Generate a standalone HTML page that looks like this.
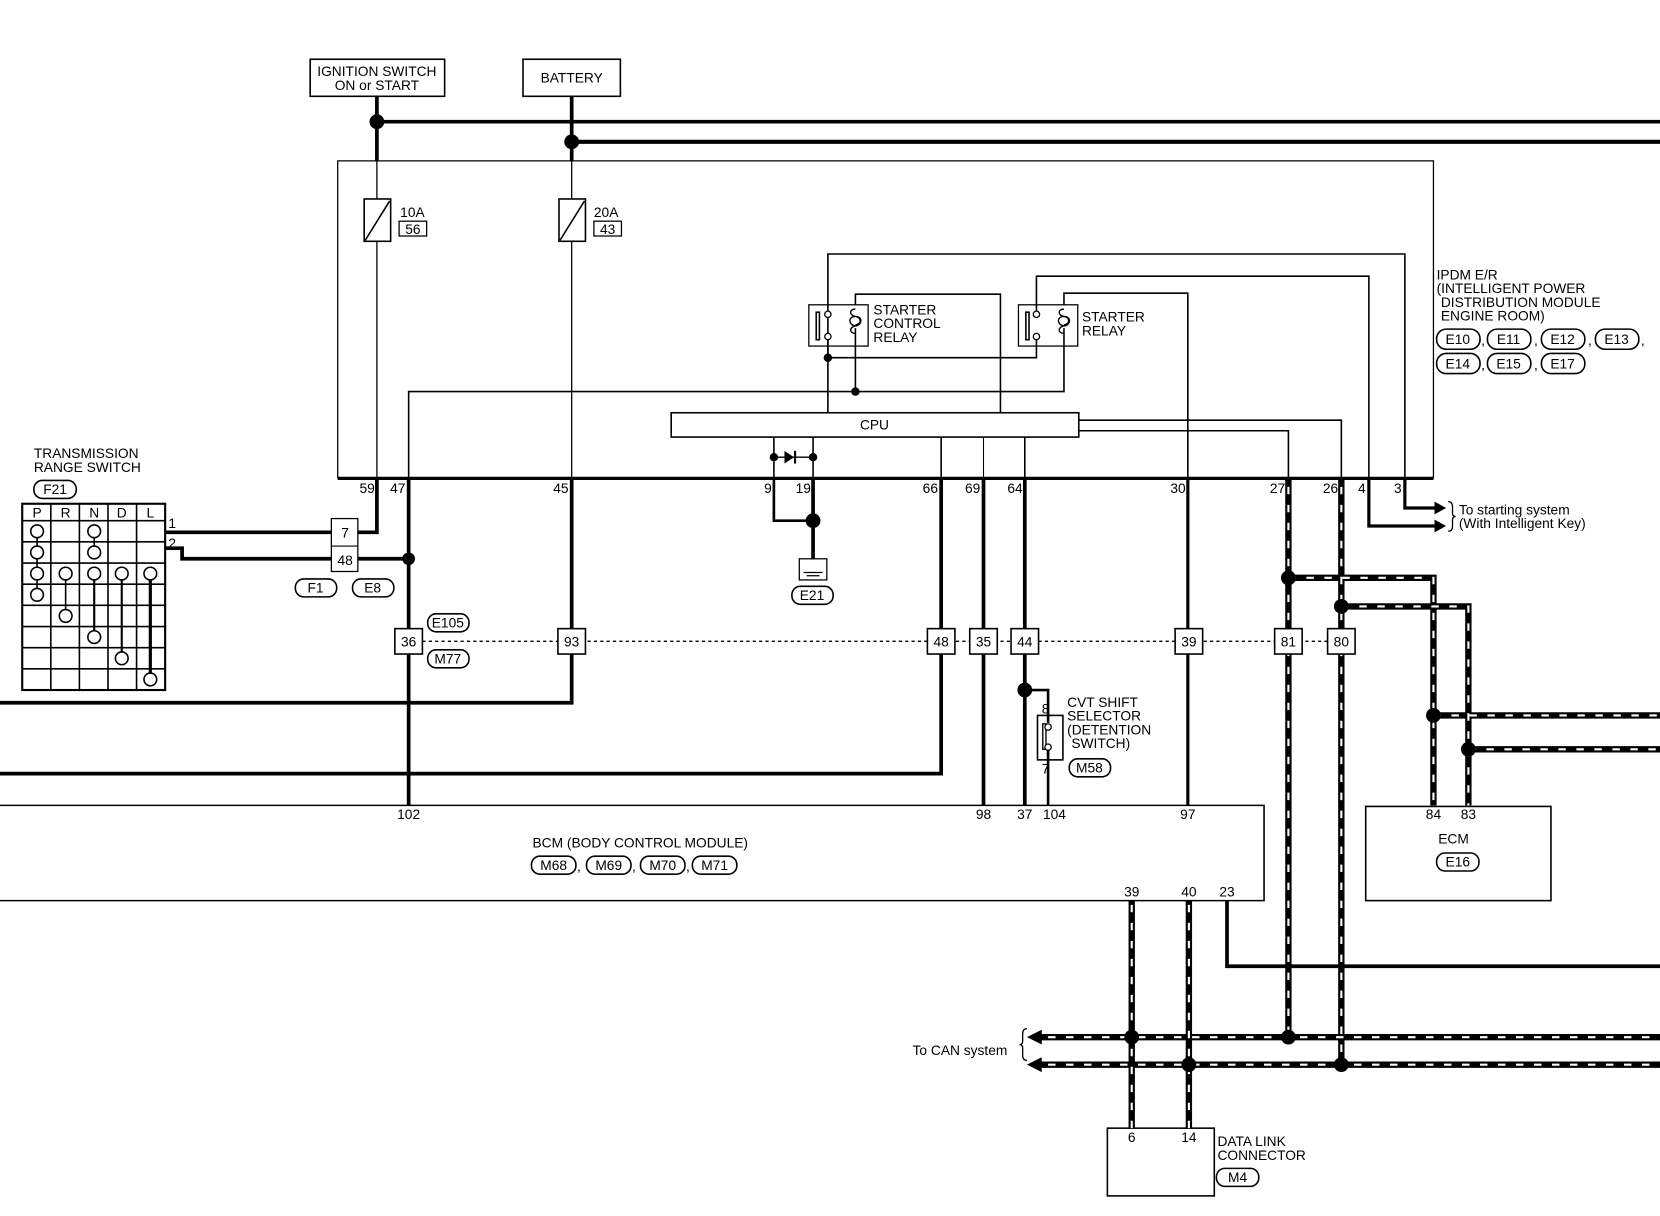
<!DOCTYPE html>
<html><head><meta charset="utf-8">
<style>
html,body{margin:0;padding:0;background:#fff;}
svg{display:block;}
text{font-family:"Liberation Sans",sans-serif;font-size:13px;fill:#000;}
</style></head>
<body>
<svg width="1660" height="1216" viewBox="0 0 1568 1149" preserveAspectRatio="none" xmlns="http://www.w3.org/2000/svg">
<g fill="none" stroke="#000">
<rect x="293" y="56" width="127" height="35" stroke-width="1.5"/>
<rect x="494" y="56" width="92" height="35" stroke-width="1.5"/>
<line x1="356" y1="91" x2="356" y2="152" stroke-width="3.5"/>
<line x1="540" y1="91" x2="540" y2="152" stroke-width="3.5"/>
<line x1="356" y1="115" x2="1568" y2="115" stroke-width="3.5"/>
<line x1="540" y1="134" x2="1568" y2="134" stroke-width="4"/>
<polyline points="319,452 319,152 1354,152 1354,452" stroke-width="1.2"/>
<line x1="319" y1="452" x2="1354" y2="452" stroke-width="3"/>
<line x1="356" y1="152" x2="356" y2="452" stroke-width="1.2"/>
<line x1="540" y1="152" x2="540" y2="452" stroke-width="1.2"/>
<rect x="344" y="188" width="25" height="40" fill="#fff" stroke-width="1.5"/>
<line x1="345" y1="227" x2="368" y2="190" stroke-width="1.5"/>
<rect x="528" y="188" width="25" height="40" fill="#fff" stroke-width="1.5"/>
<line x1="529" y1="227" x2="552" y2="190" stroke-width="1.5"/>
<rect x="377" y="209" width="26" height="14" stroke-width="1.2"/>
<rect x="561" y="209" width="26" height="14" stroke-width="1.2"/>
<polyline points="782,390 782,240 1327,240 1327,452" stroke-width="1.5"/>
<polyline points="979,297 979,261 1293,261 1293,452" stroke-width="1.5"/>
<polyline points="808,288 808,278 945,278 945,390" stroke-width="1.5"/>
<polyline points="1005,288 1005,277 1122,277 1122,452" stroke-width="1.5"/>
<rect x="764" y="288" width="56" height="39" stroke-width="1.2"/>
<rect x="962" y="288" width="56" height="39" stroke-width="1.2"/>
<line x1="782" y1="318" x2="782" y2="338" stroke-width="1.5"/>
<polyline points="782,338 979,338 979,318" stroke-width="1.5"/>
<line x1="808" y1="310" x2="808" y2="370" stroke-width="1.5"/>
<polyline points="386,452 386,370 1005,370 1005,310" stroke-width="1.5"/>
<rect x="771" y="295" width="3" height="26" stroke-width="1.5"/>
<rect x="969" y="295" width="3" height="26" stroke-width="1.5"/>
<circle cx="782" cy="297" r="3" fill="#fff" stroke-width="1.2"/>
<circle cx="782" cy="318" r="3" fill="#fff" stroke-width="1.2"/>
<circle cx="979" cy="297" r="3" fill="#fff" stroke-width="1.2"/>
<circle cx="979" cy="318" r="3" fill="#fff" stroke-width="1.2"/>
<path d="M808,292 c-6,0 -6,6 0,7 c6,1 6,7 0,8 M808,299 c-7,0 -7,8 0,9 c6,0 6,-9 0,-9 M808,308 c-6,1 -6,7 0,7 M808,299 c7,0 7,8 0,9" stroke-width="1.3"/>
<path d="M1005,292 c-6,0 -6,6 0,7 c6,1 6,7 0,8 M1005,299 c-7,0 -7,8 0,9 c6,0 6,-9 0,-9 M1005,308 c-6,1 -6,7 0,7 M1005,299 c7,0 7,8 0,9" stroke-width="1.3"/>
<rect x="634" y="390" width="385" height="23" fill="#fff" stroke-width="1.5"/>
<polyline points="1019,397 1267,397 1267,452" stroke-width="1.5"/>
<polyline points="1019,407 1217,407 1217,452" stroke-width="1.5"/>
<line x1="731" y1="413" x2="731" y2="452" stroke-width="1.5"/>
<line x1="768" y1="413" x2="768" y2="452" stroke-width="1.5"/>
<line x1="731" y1="432" x2="768" y2="432" stroke-width="1.2"/>
<line x1="889" y1="413" x2="889" y2="452" stroke-width="1.5"/>
<line x1="929" y1="413" x2="929" y2="452" stroke-width="1"/>
<line x1="968" y1="413" x2="968" y2="452" stroke-width="1.5"/>
<polyline points="356,452 356,503 338,503" stroke-width="3.5"/>
<line x1="386" y1="452" x2="386" y2="761" stroke-width="3.5"/>
<polyline points="540,452 540,664 0,664" stroke-width="3.5"/>
<polyline points="731,452 731,492 768,492" stroke-width="2.5"/>
<line x1="768" y1="452" x2="768" y2="528" stroke-width="3.5"/>
<polyline points="889,452 889,731 0,731" stroke-width="3.5"/>
<line x1="929" y1="452" x2="929" y2="761" stroke-width="3.5"/>
<line x1="968" y1="452" x2="968" y2="761" stroke-width="3.5"/>
<polyline points="968,652 990,652 990,683" stroke-width="2.5"/>
<line x1="990" y1="709" x2="990" y2="761" stroke-width="2.5"/>
<line x1="1122" y1="452" x2="1122" y2="761" stroke-width="3"/>
<polyline points="1293,452 1293,497 1355,497" stroke-width="3"/>
<polyline points="1327,452 1327,480 1355,480" stroke-width="3"/>
<line x1="156" y1="503" x2="313" y2="503" stroke-width="3.5"/>
<polyline points="156,518 172,518 172,528 313,528" stroke-width="3.5"/>
<line x1="338" y1="528" x2="386" y2="528" stroke-width="3.5"/>
<rect x="313" y="490" width="25" height="50" fill="#fff" stroke-width="1.2"/>
<line x1="313" y1="516" x2="338" y2="516" stroke-width="1"/>
<rect x="21" y="476" width="135" height="176" stroke-width="2"/>
<g stroke-width="1.5">
<line x1="48" y1="476" x2="48" y2="652"/><line x1="75" y1="476" x2="75" y2="652"/>
<line x1="102" y1="476" x2="102" y2="652"/><line x1="129" y1="476" x2="129" y2="652"/>
<line x1="21" y1="492" x2="156" y2="492"/><line x1="21" y1="512" x2="156" y2="512"/>
<line x1="21" y1="532" x2="156" y2="532"/><line x1="21" y1="552" x2="156" y2="552"/>
<line x1="21" y1="572" x2="156" y2="572"/><line x1="21" y1="592" x2="156" y2="592"/>
<line x1="21" y1="612" x2="156" y2="612"/><line x1="21" y1="632" x2="156" y2="632"/>
<line x1="35" y1="502" x2="35" y2="562"/>
<line x1="89" y1="502" x2="89" y2="522"/>
<line x1="62" y1="542" x2="62" y2="582"/>
<line x1="89" y1="542" x2="89" y2="602" stroke-width="2"/>
<line x1="115" y1="542" x2="115" y2="622" stroke-width="2"/>
<line x1="142" y1="542" x2="142" y2="642" stroke-width="3"/>
</g>
<g fill="#fff" stroke-width="1.5">
<circle cx="35" cy="502" r="6"/><circle cx="35" cy="522" r="6"/><circle cx="35" cy="542" r="6"/><circle cx="35" cy="562" r="6"/>
<circle cx="89" cy="502" r="6"/><circle cx="89" cy="522" r="6"/><circle cx="89" cy="542" r="6"/><circle cx="89" cy="602" r="6"/>
<circle cx="62" cy="542" r="6"/><circle cx="62" cy="582" r="6"/>
<circle cx="115" cy="542" r="6"/><circle cx="115" cy="622" r="6"/>
<circle cx="142" cy="542" r="6"/><circle cx="142" cy="642" r="6"/>
</g>
<line x1="399" y1="606" x2="1254" y2="606" stroke-width="1.3" stroke-dasharray="3,3"/>
<g fill="#fff" stroke-width="1.5">
<rect x="373" y="594" width="26" height="24"/><rect x="527" y="594" width="26" height="24"/>
<rect x="876" y="594" width="26" height="24"/><rect x="916" y="594" width="26" height="24"/>
<rect x="955" y="594" width="26" height="24"/><rect x="1110" y="594" width="26" height="24"/>
</g>
<rect x="980" y="676" width="24" height="42" stroke-width="1.5"/>
<rect x="985" y="684" width="3" height="24" stroke-width="1.3"/>
<circle cx="990" cy="687" r="3" fill="#fff" stroke-width="1.2"/>
<circle cx="990" cy="706" r="3" fill="#fff" stroke-width="1.2"/>
<rect x="755" y="528" width="26" height="20" stroke-width="1.2"/>
<line x1="759" y1="541" x2="777" y2="541" stroke-width="1.2"/>
<line x1="762" y1="544" x2="774" y2="544" stroke-width="1.2"/>
<polyline points="0,761 1194,761 1194,851 0,851" stroke-width="1.5"/>
<rect x="1290" y="762" width="175" height="89" stroke-width="1.5"/>
<polyline points="1159,851 1159,913 1568,913" stroke-width="3.5"/>
<rect x="1046" y="1066" width="101" height="64" stroke-width="1.5"/>
<g stroke-width="6">
<polyline points="1217,452 1217,980"/>
<polyline points="1267,452 1267,1006"/>
<polyline points="1217,546 1354,546 1354,761"/>
<polyline points="1267,573 1387,573 1387,761"/>
<line x1="1354" y1="676" x2="1568" y2="676"/>
<line x1="1387" y1="708" x2="1568" y2="708"/>
<line x1="1069" y1="851" x2="1069" y2="1066"/>
<line x1="1123" y1="851" x2="1123" y2="1066"/>
<line x1="980" y1="980" x2="1568" y2="980"/>
<line x1="980" y1="1006" x2="1568" y2="1006"/>
</g>
<g stroke="#fff" stroke-width="2" stroke-dasharray="7,10">
<polyline points="1217,460 1217,980"/>
<polyline points="1267,460 1267,1006"/>
<polyline points="1217,546 1354,546 1354,761"/>
<polyline points="1267,573 1387,573 1387,761"/>
<line x1="1354" y1="676" x2="1568" y2="676"/>
<line x1="1387" y1="708" x2="1568" y2="708"/>
<line x1="1069" y1="855" x2="1069" y2="1066"/>
<line x1="1123" y1="855" x2="1123" y2="1066"/>
<line x1="990" y1="980" x2="1568" y2="980"/>
<line x1="990" y1="1006" x2="1568" y2="1006"/>
</g>
<g fill="#fff" stroke-width="1.5">
<rect x="1204" y="594" width="26" height="24"/><rect x="1254" y="594" width="26" height="24"/>
</g>
<path d="M1368,474 q4,0 4,5 v6 q0,3 3,3 q-3,0 -3,3 v6 q0,5 -4,5" stroke-width="1.2"/>
<path d="M970,972 q-4,0 -4,5 v7 q0,3 -3,3 q3,0 3,3 v7 q0,5 4,5" stroke-width="1.2"/>
</g>
<g fill="#000">
<polygon points="1355,474 1366,480 1355,486"/>
<polygon points="1355,491 1366,497 1355,503"/>
<polygon points="970,980 984,973 984,987"/>
<polygon points="970,1006 984,999 984,1013"/>
<polygon points="741,426 741,438 750,432"/>
<rect x="750" y="426" width="2" height="12"/>
<circle cx="356" cy="115" r="7"/><circle cx="540" cy="134" r="7"/>
<circle cx="782" cy="338" r="4"/><circle cx="808" cy="370" r="4"/>
<circle cx="731" cy="432" r="4"/><circle cx="768" cy="432" r="4"/>
<circle cx="768" cy="492" r="7"/><circle cx="386" cy="528" r="6"/>
<circle cx="968" cy="652" r="7"/>
<circle cx="1217" cy="546" r="7"/><circle cx="1267" cy="573" r="7"/>
<circle cx="1354" cy="676" r="7"/><circle cx="1387" cy="708" r="7"/>
<circle cx="1069" cy="980" r="7"/><circle cx="1217" cy="980" r="7"/>
<circle cx="1123" cy="1006" r="7"/><circle cx="1267" cy="1006" r="7"/>
</g>
<g fill="none" stroke="#000" stroke-width="1.5">
<rect x="32" y="454" width="40" height="17" rx="8"/>
<rect x="279" y="547" width="39" height="17" rx="8"/>
<rect x="333" y="547" width="39" height="17" rx="8"/>
<rect x="404" y="580" width="39" height="17" rx="8"/>
<rect x="404" y="614" width="39" height="17" rx="8"/>
<rect x="748" y="554" width="39" height="17" rx="8"/>
<rect x="1010" y="717" width="39" height="17" rx="8"/>
<rect x="502" y="809" width="42" height="17" rx="8"/>
<rect x="554" y="809" width="42" height="17" rx="8"/>
<rect x="605" y="809" width="42" height="17" rx="8"/>
<rect x="654" y="809" width="42" height="17" rx="8"/>
<rect x="1357" y="806" width="40" height="17" rx="8"/>
<rect x="1149" y="1104" width="40" height="17" rx="8"/>
<rect x="1357" y="311" width="41" height="19" rx="9"/>
<rect x="1405" y="311" width="41" height="19" rx="9"/>
<rect x="1456" y="311" width="41" height="19" rx="9"/>
<rect x="1507" y="311" width="41" height="19" rx="9"/>
<rect x="1357" y="334" width="41" height="19" rx="9"/>
<rect x="1405" y="334" width="41" height="19" rx="9"/>
<rect x="1456" y="334" width="41" height="19" rx="9"/>
</g>
<text x="356" y="72" text-anchor="middle">IGNITION SWITCH</text>
<text x="356" y="85" text-anchor="middle">ON or START</text>
<text x="540" y="78" text-anchor="middle">BATTERY</text>
<text x="378" y="205">10A</text><text x="390" y="221" text-anchor="middle">56</text>
<text x="561" y="205">20A</text><text x="574" y="221" text-anchor="middle">43</text>
<text x="825" y="297">STARTER</text><text x="825" y="310">CONTROL</text><text x="825" y="323">RELAY</text>
<text x="1022" y="304">STARTER</text><text x="1022" y="317">RELAY</text>
<text x="826" y="406" text-anchor="middle">CPU</text>
<text x="1357" y="264">IPDM E/R</text>
<text x="1357" y="277">(INTELLIGENT POWER</text>
<text x="1361" y="290">DISTRIBUTION MODULE</text>
<text x="1361" y="303">ENGINE ROOM)</text>
<g text-anchor="middle">
<text x="1377" y="325">E10</text><text x="1425" y="325">E11</text><text x="1476" y="325">E12</text><text x="1527" y="325">E13</text>
<text x="1377" y="348">E14</text><text x="1425" y="348">E15</text><text x="1476" y="348">E17</text>
</g>
<text x="1399" y="326">,</text><text x="1449" y="326">,</text><text x="1500" y="326">,</text><text x="1550" y="326">,</text>
<text x="1399" y="349">,</text><text x="1449" y="349">,</text>
<g text-anchor="end">
<text x="354" y="466">59</text><text x="383" y="466">47</text><text x="537" y="466">45</text>
<text x="729" y="466">9</text><text x="766" y="466">19</text><text x="886" y="466">66</text>
<text x="926" y="466">69</text><text x="966" y="466">64</text><text x="1120" y="466">30</text>
<text x="1214" y="466">27</text><text x="1264" y="466">26</text><text x="1290" y="466">4</text>
<text x="1324" y="466">3</text>
</g>
<text x="1378" y="486">To starting system</text>
<text x="1378" y="499">(With Intelligent Key)</text>
<text x="32" y="433">TRANSMISSION</text>
<text x="32" y="446">RANGE SWITCH</text>
<text x="52" y="467" text-anchor="middle">F21</text>
<g text-anchor="middle">
<text x="35" y="489">P</text><text x="62" y="489">R</text><text x="89" y="489">N</text><text x="115" y="489">D</text><text x="142" y="489">L</text>
<text x="326" y="508">7</text><text x="326" y="534">48</text>
<text x="298" y="560">F1</text><text x="352" y="560">E8</text>
<text x="423" y="593">E105</text><text x="423" y="627">M77</text>
<text x="767" y="567">E21</text>
<text x="386" y="611">36</text><text x="540" y="611">93</text><text x="889" y="611">48</text><text x="929" y="611">35</text>
<text x="968" y="611">44</text><text x="1123" y="611">39</text><text x="1217" y="611">81</text><text x="1267" y="611">80</text>
<text x="1029" y="730">M58</text>
<text x="386" y="774">102</text><text x="929" y="774">98</text><text x="968" y="774">37</text><text x="996" y="774">104</text>
<text x="1122" y="774">97</text><text x="1354" y="774">84</text><text x="1387" y="774">83</text>
<text x="1373" y="797">ECM</text><text x="1377" y="819">E16</text>
<text x="523" y="822">M68</text><text x="575" y="822">M69</text><text x="626" y="822">M70</text><text x="675" y="822">M71</text>
<text x="1069" y="847">39</text><text x="1123" y="847">40</text><text x="1159" y="847">23</text>
<text x="1069" y="1079">6</text><text x="1123" y="1079">14</text>
<text x="1169" y="1117">M4</text>
</g>
<text x="159" y="499">1</text><text x="159" y="518">2</text>
<text x="984" y="674">8</text><text x="984" y="731">7</text>
<text x="1008" y="668">CVT SHIFT</text><text x="1008" y="681">SELECTOR</text>
<text x="1008" y="694">(DETENTION</text><text x="1012" y="707">SWITCH)</text>
<text x="503" y="801">BCM (BODY CONTROL MODULE)</text>
<text x="545" y="823">,</text><text x="597" y="823">,</text><text x="648" y="823">,</text>
<text x="862" y="997">To CAN system</text>
<text x="1150" y="1083">DATA LINK</text><text x="1150" y="1096">CONNECTOR</text>
</svg>
</body></html>
